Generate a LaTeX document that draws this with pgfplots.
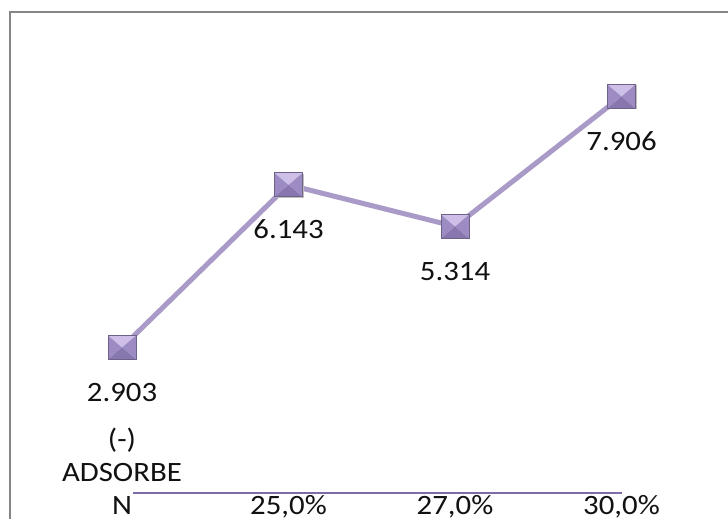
\documentclass[border=0pt]{standalone}
\usepackage{pgfplots}
\pgfplotsset{compat=1.18}
\usepackage{fontspec}
\setmainfont[FakeStretch=1.1]{Carlito}
\definecolor{lineP}{HTML}{A99AC8}
\definecolor{axisP}{HTML}{7F6BA8}
\definecolor{mTop}{HTML}{CDBFE8}
\definecolor{mSide}{HTML}{9D8CC4}
\definecolor{mBot}{HTML}{8876AE}
\definecolor{mEdge}{HTML}{6E6288}
\definecolor{txt}{HTML}{111111}
\pgfdeclareplotmark{bevel}{%
  \pgfpathrectangle{\pgfpoint{-13pt}{-13pt}}{\pgfpoint{28pt}{24pt}}%
  \pgfsetfillcolor{black!25}\pgfusepath{fill}%
  \pgfpathmoveto{\pgfpoint{-14pt}{-12pt}}\pgfpathlineto{\pgfpoint{14pt}{-12pt}}\pgfpathlineto{\pgfpoint{0pt}{0pt}}\pgfpathclose
  \pgfsetfillcolor{mBot}\pgfusepath{fill}%
  \pgfpathmoveto{\pgfpoint{-14pt}{-12pt}}\pgfpathlineto{\pgfpoint{-14pt}{12pt}}\pgfpathlineto{\pgfpoint{0pt}{0pt}}\pgfpathclose
  \pgfsetfillcolor{mSide}\pgfusepath{fill}%
  \pgfpathmoveto{\pgfpoint{14pt}{-12pt}}\pgfpathlineto{\pgfpoint{14pt}{12pt}}\pgfpathlineto{\pgfpoint{0pt}{0pt}}\pgfpathclose
  \pgfsetfillcolor{mSide}\pgfusepath{fill}%
  \pgfpathmoveto{\pgfpoint{-14pt}{12pt}}\pgfpathlineto{\pgfpoint{14pt}{12pt}}\pgfpathlineto{\pgfpoint{0pt}{0pt}}\pgfpathclose
  \pgfsetfillcolor{mTop}\pgfusepath{fill}%
  \pgfpathrectangle{\pgfpoint{-14pt}{-12pt}}{\pgfpoint{28pt}{24pt}}%
  \pgfsetstrokecolor{mEdge}\pgfsetlinewidth{0.8pt}\pgfusepath{stroke}%
}
\pgfplotstableread{
x y label
0 2.903 2.903
1 6.143 6.143
2 5.314 5.314
3 7.906 7.906
}\datatab
\begin{document}
\begin{tikzpicture}[x=1pt,y=1pt]
\useasboundingbox (0,0) rectangle (728,519);
\fill[white] (0,0) rectangle (728,519);
\draw[line width=2.5pt, color=black!48] (10,0) -- (10,507) -- (728,507);
\begin{axis}[
  at={(122pt,26pt)}, anchor=south west,
  width=499.5pt, height=451.5pt, scale only axis,
  xmin=0, xmax=3, ymin=0, ymax=9,
  axis line style={draw=none},
  ytick=\empty,
  xtick={0,1,2,3},
  major tick length=0pt,
  xticklabels={{\begin{tabular}[b]{@{}c@{}}(-)\\ADSORBE\\N\end{tabular}},{25,0\%},{27,0\%},{30,0\%}},
  xticklabel style={anchor=base, yshift=-22pt, inner sep=0pt, text=txt, font=\fontsize{28}{33}\selectfont},
  clip=false,
]
\draw[axisP, line width=2pt] (axis cs:0.066,0) -- (axis cs:3.005,0);
\addplot[lineP, line width=5pt, mark=bevel,
  nodes near coords, point meta=explicit symbolic,
  every node near coord/.append style={anchor=base, yshift=-54pt, text=txt, font=\fontsize{28}{33}\selectfont}]
  table[x=x, y=y, meta=label] {\datatab};
\end{axis}
\end{tikzpicture}
\end{document}
